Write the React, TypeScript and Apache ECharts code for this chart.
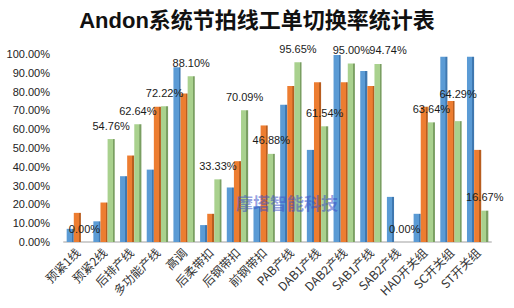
import React, { useEffect, useRef } from "react";
import * as echarts from "echarts";

const categories = [
  "预紧1线", "预紧2线", "后排产线", "多功能产线", "高调", "后柔带扣", "后钢带扣", "前钢带扣",
  "PAB产线", "DAB1产线", "DAB2产线", "SAB1产线", "SAB2产线", "HAD开关组", "SC开关组", "ST开关组",
];
const blueValues = [7, 11, 35, 38.5, 93, 9, 29, 19, 73, 49, 99.5, 91, 24, 15, 98.5, 98.5];
const orangeValues = [15.5, 21, 46, 72, 79, 15, 43, 62, 83, 85, 85, 83, 0, 72, 75, 49];
const greenValues = [0, 54.76, 62.64, 72.22, 88.10, 33.33, 70.09, 46.88, 95.65, 61.54, 95.00, 94.74, 0, 63.64, 64.29, 16.67];
const yTicks = { min: 0, max: 100, interval: 10 };

function shade(base: string, dark: string) {
  return new echarts.graphic.LinearGradient(0, 0, 1, 0, [
    { offset: 0, color: base },
    { offset: 0.72, color: base },
    { offset: 0.74, color: dark },
    { offset: 1, color: dark },
  ]);
}

export default function App() {
  const ref = useRef<HTMLDivElement>(null);
  useEffect(() => {
    if (!ref.current) return;
    const chart = echarts.init(ref.current, undefined, { renderer: "svg" });
    const labelStyle = {
      show: true,
      position: "top",
      distance: 8,
      formatter: (p: any) => Number(p.value).toFixed(2) + "%",
      fontFamily: "Liberation Sans, Arial, sans-serif",
      fontSize: 11,
      color: "#1a1a1a",
    };
    const labelOffsets: Record<number, number[]> = { 11: [10, 0], 14: [0, -14] };
    const greenData = greenValues.map((v, i) =>
      labelOffsets[i] ? { value: v, label: { offset: labelOffsets[i] } } : v
    );
    const mk = (name: string, data: any[], base: string, dark: string, label: boolean) => ({
      name,
      type: "bar",
      data,
      barGap: "0%",
      barCategoryGap: "20%",
      itemStyle: { color: shade(base, dark) },
      label: label ? labelStyle : { show: false },
    });
    chart.setOption({
      animation: false,
      backgroundColor: "#ffffff",
      title: {
        text: "Andon系统节拍线工单切换率统计表",
        left: "center",
        top: 4,
        textStyle: {
          fontFamily: "Liberation Sans, 'Noto Sans CJK SC', sans-serif",
          fontWeight: "bold",
          fontSize: 22,
          color: "#111",
        },
      },
      grid: { left: 64, right: 23, top: 54, bottom: 66, containLabel: false },
      xAxis: {
        type: "category",
        data: categories,
        axisLine: { lineStyle: { color: "#cfcfcf", width: 2 } },
        axisTick: { show: false },
        axisLabel: {
          rotate: 45,
          interval: 0,
          margin: 8,
          fontFamily: "'Noto Sans CJK SC', sans-serif",
          fontSize: 12,
          color: "#333",
        },
      },
      yAxis: {
        type: "value",
        min: yTicks.min,
        max: yTicks.max,
        interval: yTicks.interval,
        axisLine: { show: false },
        axisTick: { show: false },
        splitLine: { show: false },
        axisLabel: {
          margin: 14,
          formatter: (v: number) => v.toFixed(2) + "%",
          fontFamily: "Liberation Sans, Arial, sans-serif",
          fontSize: 11,
          color: "#222",
        },
      },
      series: [
        mk("蓝", blueValues, "#5B9BD5", "#3f78b0", false),
        mk("橙", orangeValues, "#ED7D31", "#b85d1f", false),
        mk("绿", greenData, "#A9D18E", "#7a9f62", true),
      ],
      graphic: [
        {
          type: "text",
          left: 236,
          top: 194,
          z: 100,
          style: {
            text: "摩塔智能科技",
            fontFamily: "'Noto Sans CJK SC', sans-serif",
            fontWeight: "bold",
            fontSize: 17,
            fill: "rgba(60,80,200,0.55)",
          },
        },
      ],
    });
    return () => chart.dispose();
  }, []);
  return (
    <div
      ref={ref}
      style={{ position: "fixed", left: 0, top: 0, width: 514, height: 308 }}
    />
  );
}
